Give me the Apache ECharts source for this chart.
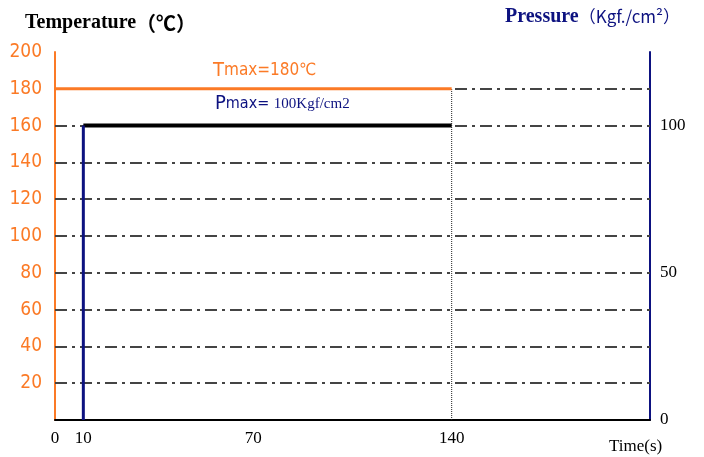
<!DOCTYPE html>
<html><head><meta charset="utf-8">
<script src="https://cdn.jsdelivr.net/npm/echarts@6/dist/echarts.min.js"></script>
<style>html,body{margin:0;padding:0;background:#fff}#c{width:704px;height:457px}</style>
</head><body><div id="c"></div>
<script>
// Data
const timeTicks = [0, 10, 70, 140];
const tempTicks = [20, 40, 60, 80, 100, 120, 140, 160, 180, 200];
const pressureTicks = [0, 50, 100];
const gridTemps = [20, 40, 60, 80, 100, 120, 140, 160, 180];
const tempTime = [0, 140];
const tempValue = [180, 180];
const pressRiseTime = [10, 10];
const pressRiseValue = [0, 100];
const pressHoldTime = [10, 140];
const pressHoldValue = [100, 100];
const endMarkTime = [140, 140];
const endMarkTemp = [0, 180];

const zip = (a, b) => a.map((v, i) => [v, b[i]]);
const chart = echarts.init(document.getElementById('c'), null, {renderer: 'canvas'});
const orange = '#fb7a26', navy = '#0d1280';
const numFont = '"Liberation Sans Narrow","DejaVu Sans Condensed",sans-serif';
const serif = '"Liberation Serif","DejaVu Serif",serif';
const cjk = '"Noto Sans CJK TC",sans-serif';

chart.setOption({
  animation: false,
  grid: {left: 55, right: 54, top: 52, bottom: 37},
  xAxis: {
    type: 'value', min: 0, max: 210,
    axisLine: {show: true, onZero: false, lineStyle: {color: '#000', width: 2}},
    axisTick: {show: false},
    splitLine: {show: false},
    axisLabel: {customValues: timeTicks, color: '#000', fontFamily: serif, fontSize: 17, margin: 10}
  },
  yAxis: [{
    type: 'value', min: 0, max: 200, interval: 20,
    axisLine: {show: true, lineStyle: {color: orange, width: 2}},
    axisTick: {show: false},
    splitLine: {show: false},
    axisLabel: {customValues: tempTicks, color: orange, fontFamily: numFont, fontSize: 19, margin: 13}
  }, {
    type: 'value', min: 0, max: 125, position: 'right',
    axisLine: {show: true, lineStyle: {color: navy, width: 2}},
    axisTick: {show: false},
    splitLine: {show: false},
    axisLabel: {customValues: pressureTicks, color: '#000', fontFamily: serif, fontSize: 17, margin: 10}
  }],
  title: [
    {text: '{a|Temperature}{b|（℃）}', left: 20, top: 8,
     textStyle: {rich: {a: {fontFamily: serif, fontSize: 20, fontWeight: 'bold', color: '#000'},
                        b: {fontFamily: cjk, fontSize: 20, fontWeight: 'bold', color: '#000'}}}},
    {text: '{a|Pressure}{b|（Kgf./cm²）}', left: 500, top: 2,
     textStyle: {rich: {a: {fontFamily: serif, fontSize: 20, fontWeight: 'bold', color: navy},
                        b: {fontFamily: cjk, fontSize: 17, fontWeight: 'normal', color: navy}}}},
    {text: '{a|T}{b|max=180℃}', left: 208, top: 56,
     textStyle: {rich: {a: {fontFamily: numFont, fontSize: 20, fontWeight: 'normal', color: orange},
                        b: {fontFamily: numFont, fontSize: 17, fontWeight: 'normal', color: orange}}}},
    {text: '{a|P}{b|max= }{c|100Kgf/cm2}', left: 210, top: 89,
     textStyle: {rich: {a: {fontFamily: numFont, fontSize: 20, fontWeight: 'normal', color: navy},
                        b: {fontFamily: numFont, fontSize: 16, fontWeight: 'normal', color: navy},
                        c: {fontFamily: serif, fontSize: 15, fontWeight: 'normal', color: navy}}}},
    {text: 'Time(s)', left: 604, top: 433,
     textStyle: {fontFamily: serif, fontSize: 17, fontWeight: 'normal', color: '#000'}}
  ],
  series: [{
    type: 'line', data: [], symbol: 'none', z: 1,
    markLine: {
      silent: true, symbol: 'none', label: {show: false}, z: 1,
      lineStyle: {color: '#444', width: 2, type: [12, 5, 3, 5]},
      data: gridTemps.map(v => ({yAxis: v}))
    }
  }, {
    type: 'line', data: zip(endMarkTime, endMarkTemp), symbol: 'none', z: 3,
    lineStyle: {color: '#222', width: 1, type: [1, 1]}
  }, {
    type: 'line', data: zip(tempTime, tempValue), symbol: 'none', z: 4,
    lineStyle: {color: orange, width: 3}
  }, {
    type: 'line', yAxisIndex: 1, data: zip(pressHoldTime, pressHoldValue), symbol: 'none', z: 4,
    lineStyle: {color: '#000', width: 4}
  }, {
    type: 'line', yAxisIndex: 1, data: zip(pressRiseTime, pressRiseValue), symbol: 'none', z: 5,
    lineStyle: {color: navy, width: 3}
  }]
});
</script></body></html>
